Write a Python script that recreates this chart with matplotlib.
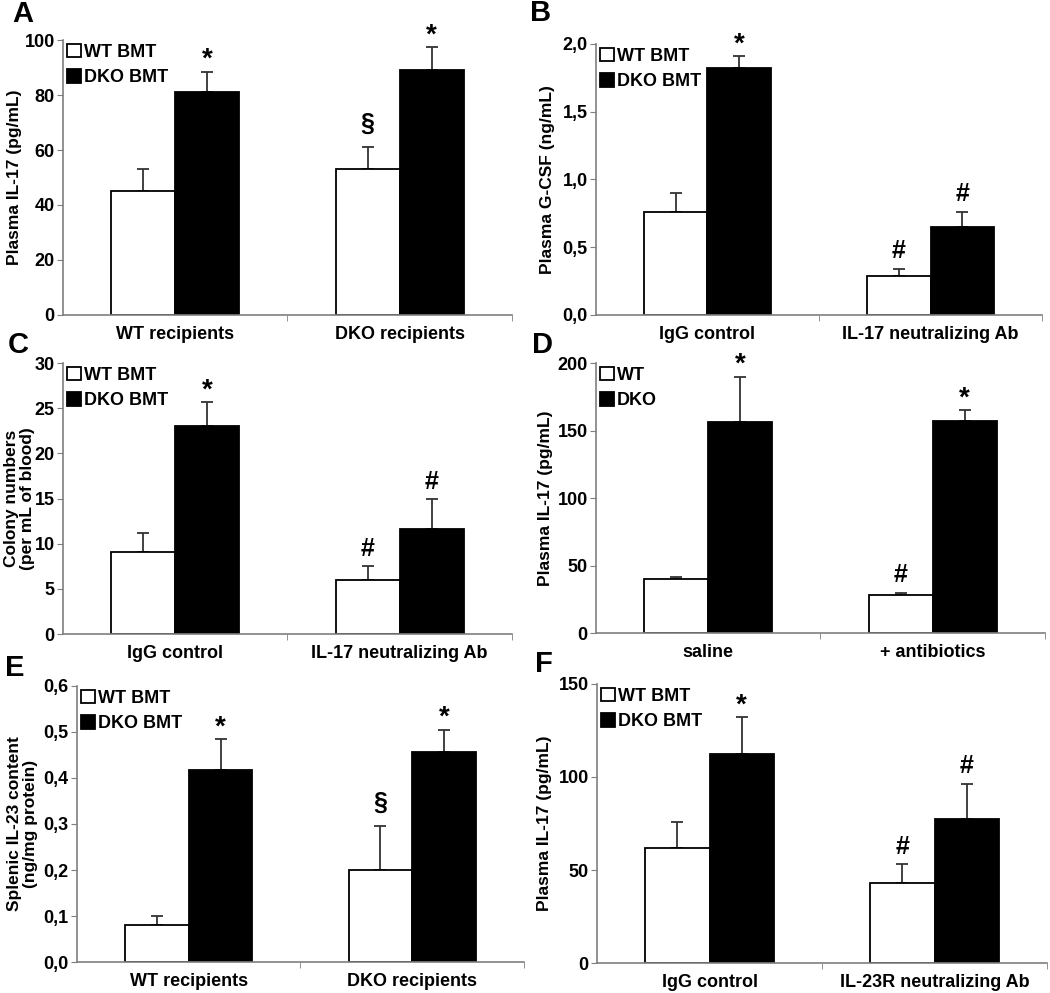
import numpy as np
import matplotlib.pyplot as plt

plt.rcParams['font.family'] = ['Liberation Sans', 'DejaVu Sans']
plt.rcParams['font.weight'] = 'bold'

# panel A
a_groups = ["WT recipients", "DKO recipients"]
a_wt = [45, 53]
a_wt_err = [8, 8]
a_dko = [81, 89]
a_dko_err = [7.5, 8.5]
a_ticks = [0, 20, 40, 60, 80, 100]
a_ticklabels = ["0", "20", "40", "60", "80", "100"]
a_marks_wt = ["", "§"]
a_marks_dko = ["*", "*"]

# panel B
b_groups = ["IgG control", "IL-17 neutralizing Ab"]
b_wt = [0.76, 0.29]
b_wt_err = [0.14, 0.05]
b_dko = [1.82, 0.65]
b_dko_err = [0.09, 0.11]
b_ticks = [0, 0.5, 1.0, 1.5, 2.0]
b_ticklabels = ["0,0", "0,5", "1,0", "1,5", "2,0"]
b_marks_wt = ["", "#"]
b_marks_dko = ["*", "#"]

# panel C
c_groups = ["IgG control", "IL-17 neutralizing Ab"]
c_wt = [9.1, 6.0]
c_wt_err = [2.1, 1.5]
c_dko = [23.0, 11.6]
c_dko_err = [2.7, 3.3]
c_ticks = [0, 5, 10, 15, 20, 25, 30]
c_ticklabels = ["0", "5", "10", "15", "20", "25", "30"]
c_marks_wt = ["", "#"]
c_marks_dko = ["*", "#"]

# panel D
d_groups = ["saline", "+ antibiotics"]
d_wt = [40, 28]
d_wt_err = [1.5, 2]
d_dko = [156, 157]
d_dko_err = [34, 8]
d_ticks = [0, 50, 100, 150, 200]
d_ticklabels = ["0", "50", "100", "150", "200"]
d_marks_wt = ["", "#"]
d_marks_dko = ["*", "*"]

# panel E
e_groups = ["WT recipients", "DKO recipients"]
e_wt = [0.08, 0.20]
e_wt_err = [0.02, 0.095]
e_dko = [0.418, 0.456]
e_dko_err = [0.067, 0.049]
e_ticks = [0, 0.1, 0.2, 0.3, 0.4, 0.5, 0.6]
e_ticklabels = ["0,0", "0,1", "0,2", "0,3", "0,4", "0,5", "0,6"]
e_marks_wt = ["", "§"]
e_marks_dko = ["*", "*"]

# panel F
f_groups = ["IgG control", "IL-23R neutralizing Ab"]
f_wt = [62, 43]
f_wt_err = [14, 10]
f_dko = [112.5, 77.5]
f_dko_err = [19.5, 19]
f_ticks = [0, 50, 100, 150]
f_ticklabels = ["0", "50", "100", "150"]
f_marks_wt = ["", "#"]
f_marks_dko = ["*", "#"]

GRAY = "#7f7f7f"

# vertical offset (points) and size for each significance mark
MARK_OFFSET = {"*": -1, "#": 4, "§": 8}
MARK_SIZE = {"*": 20, "#": 18, "§": 18}


def draw_panel(ax, groups, wt, wt_err, dko, dko_err, ticks, ticklabels,
               ylabel, marks_wt, marks_dko, labels=("WT BMT", "DKO BMT"), labelpad=1):
    x = np.arange(len(groups))
    w = 0.285
    ax.bar(x - w / 2, wt, w, color="white", edgecolor="black", linewidth=1.3,
           label=labels[0], zorder=2)
    ax.bar(x + w / 2, dko, w, color="black", edgecolor="black", linewidth=1.3,
           label=labels[1], zorder=2)
    zeros = np.zeros(len(groups))
    ax.errorbar(x - w / 2, wt, yerr=[zeros, wt_err], fmt="none", ecolor="#333333",
                elinewidth=1.3, capsize=4, capthick=1.3, zorder=1)
    ax.errorbar(x + w / 2, dko, yerr=[zeros, dko_err], fmt="none", ecolor="#333333",
                elinewidth=1.3, capsize=4, capthick=1.3, zorder=1)

    for i in range(len(groups)):
        for m, xb, top in [(marks_wt[i], x[i] - w / 2, wt[i] + wt_err[i]),
                           (marks_dko[i], x[i] + w / 2, dko[i] + dko_err[i])]:
            if m:
                ax.annotate(m, (xb, top), xytext=(0, MARK_OFFSET[m]),
                            textcoords="offset points", ha="center", va="bottom",
                            fontsize=MARK_SIZE[m], fontweight="bold")

    ax.set_xlim(-0.5, 1.5)
    ax.set_ylim(ticks[0], ticks[-1])
    ax.set_yticks(ticks)
    ax.set_yticklabels(ticklabels, fontsize=13, fontweight="bold")
    ax.set_xticks(x)
    ax.set_xticklabels(groups, fontsize=13, fontweight="bold")
    ax.set_xticks([0.5, 1.5], minor=True)
    ax.tick_params(axis="x", which="major", length=0, pad=8)
    ax.tick_params(axis="x", which="minor", length=4, color=GRAY, direction="out")
    ax.tick_params(axis="y", length=4, color=GRAY, direction="out", pad=2)
    ax.set_ylabel(ylabel, fontsize=12.5, fontweight="bold", labelpad=labelpad,
                  linespacing=1.05)
    for s in ["top", "right"]:
        ax.spines[s].set_visible(False)
    for s in ["left", "bottom"]:
        ax.spines[s].set_color(GRAY)
        ax.spines[s].set_linewidth(1.2)
    ax.legend(loc="upper left", frameon=False, handlelength=0.8,
              handleheight=0.8, handletextpad=0.15, borderaxespad=0.1,
              borderpad=0.1, labelspacing=0.45, prop={"weight": "bold", "size": 13})


fig = plt.figure(figsize=(10.5, 9.93), dpi=100)

axA = fig.add_axes([0.060, 0.6828, 0.4276, 0.2769])
axB = fig.add_axes([0.5676, 0.6828, 0.4248, 0.2729])
axC = fig.add_axes([0.060, 0.3615, 0.4276, 0.2729])
axD = fig.add_axes([0.5676, 0.3625, 0.4276, 0.2719])
axE = fig.add_axes([0.0733, 0.0312, 0.4257, 0.2780])
axF = fig.add_axes([0.5686, 0.0302, 0.4286, 0.2810])

draw_panel(axA, a_groups, a_wt, a_wt_err, a_dko, a_dko_err, a_ticks,
           a_ticklabels, "Plasma IL-17 (pg/mL)", a_marks_wt, a_marks_dko, labelpad=2)
draw_panel(axB, b_groups, b_wt, b_wt_err, b_dko, b_dko_err, b_ticks,
           b_ticklabels, "Plasma G-CSF (ng/mL)", b_marks_wt, b_marks_dko, labelpad=5)
draw_panel(axC, c_groups, c_wt, c_wt_err, c_dko, c_dko_err, c_ticks,
           c_ticklabels, "Colony numbers\n(per mL of blood)", c_marks_wt, c_marks_dko,
           labelpad=0)
draw_panel(axD, d_groups, d_wt, d_wt_err, d_dko, d_dko_err, d_ticks,
           d_ticklabels, "Plasma IL-17 (pg/mL)", d_marks_wt, d_marks_dko,
           labels=("WT", "DKO"), labelpad=3)
draw_panel(axE, e_groups, e_wt, e_wt_err, e_dko, e_dko_err, e_ticks,
           e_ticklabels, "Splenic IL-23 content\n(ng/mg protein)", e_marks_wt, e_marks_dko,
           labelpad=4)
draw_panel(axF, f_groups, f_wt, f_wt_err, f_dko, f_dko_err, f_ticks,
           f_ticklabels, "Plasma IL-17 (pg/mL)", f_marks_wt, f_marks_dko, labelpad=5)

# panel letters, placed in figure pixels
for letter, px, py in [("A", 12, 14), ("B", 530, 13), ("C", 8, 345),
                       ("D", 532, 345), ("E", 5, 668), ("F", 535, 664)]:
    fig.text(px / 1050, 1 - py / 993, letter, fontsize=21, fontweight="bold",
             ha="left", va="center")

fig.savefig("out.png", dpi=100)
